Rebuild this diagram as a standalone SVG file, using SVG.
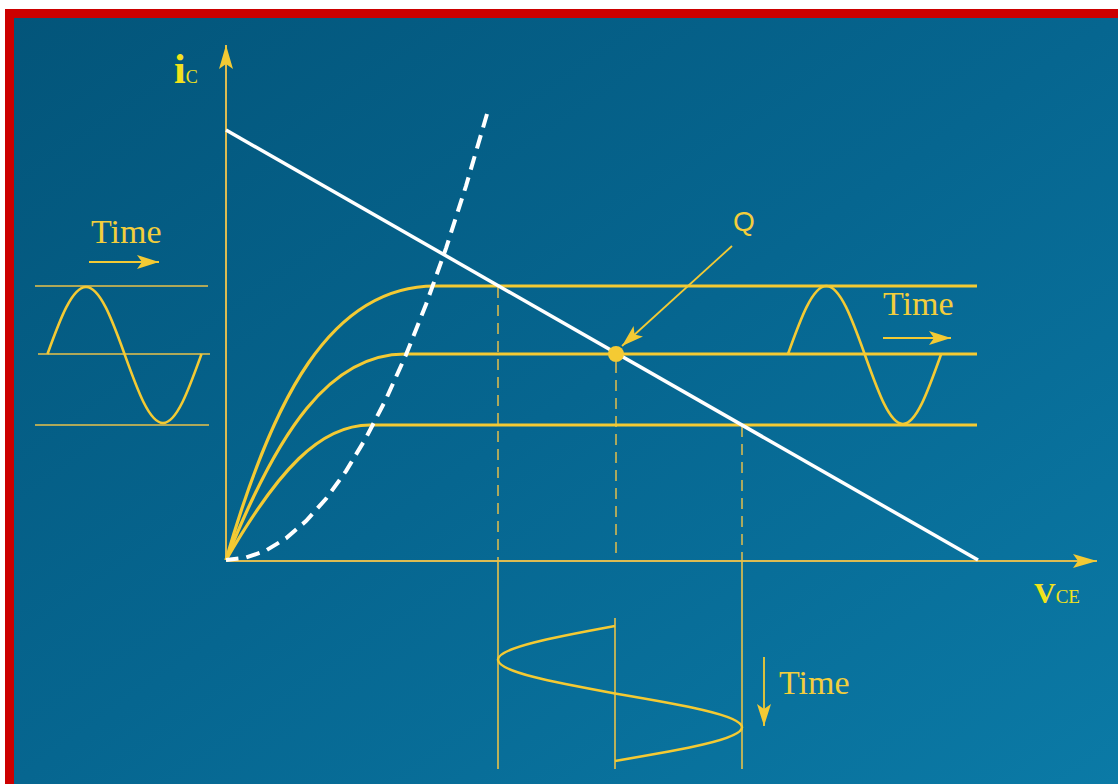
<svg xmlns="http://www.w3.org/2000/svg" width="1118" height="784" viewBox="0 0 1118 784">
<defs>
<linearGradient id="bg" x1="0" y1="0" x2="1" y2="1">
<stop offset="0" stop-color="#03557a"/>
<stop offset="0.5" stop-color="#066690"/>
<stop offset="1" stop-color="#0b7aa6"/>
</linearGradient>
<marker id="ah" markerUnits="userSpaceOnUse" markerWidth="26" markerHeight="18" refX="22" refY="8" orient="auto">
<path d="M0,1 L22,8 L0,15 L5,8 Z" fill="#f3ca34"/>
</marker>
<marker id="axh" markerUnits="userSpaceOnUse" markerWidth="28" markerHeight="18" refX="24" refY="8" orient="auto">
<path d="M0,1 L24,8 L0,15 L5,8 Z" fill="#f3ca34"/>
</marker>
<style>
.thin{stroke:#e8c24a;stroke-width:1.6;fill:none}
.axis{stroke:#dcbc52;stroke-width:2;fill:none}
.curve{stroke:#f4ca33;stroke-width:3.2;fill:none}
.wave{stroke:#f4ca33;stroke-width:2.6;fill:none}
.dash{stroke:#e2bf4c;stroke-width:1.5;fill:none;stroke-dasharray:11 7}
.arr{stroke:#f3ca34;stroke-width:1.8;fill:none}
.lbl{font-family:"Liberation Serif",serif;fill:#f3ce3c}
.ax{font-family:"Liberation Serif",serif;fill:#f2e21c;font-weight:bold}
</style>
</defs>
<rect x="0" y="0" width="1118" height="784" fill="#ffffff"/>
<rect x="5" y="9" width="1113" height="775" fill="#cc0000"/>
<rect x="14" y="18" width="1104" height="766" fill="url(#bg)"/>

<g id="connectors">
<line class="axis" x1="226" y1="560" x2="226" y2="45" marker-end="url(#axh)"/>
<line class="axis" x1="226" y1="561" x2="1097" y2="561" marker-end="url(#axh)"/>
<line class="dash" x1="498" y1="287" x2="498" y2="560"/>
<line class="thin" x1="498" y1="560" x2="498" y2="769"/>
<line class="dash" x1="616" y1="362" x2="616" y2="560"/>
<line class="thin" x1="615" y1="618" x2="615" y2="769"/>
<line class="dash" x1="742" y1="426" x2="742" y2="560"/>
<line class="thin" x1="742" y1="560" x2="742" y2="769"/>
<line class="arr" x1="732" y1="246" x2="622" y2="346" marker-end="url(#ah)"/>
</g>

<g id="input-signal">
<line class="thin" x1="35" y1="286" x2="208" y2="286"/>
<line class="thin" x1="38" y1="354" x2="210" y2="354"/>
<line class="thin" x1="35" y1="425" x2="209" y2="425"/>
<path class="wave" d="M47.5,354 C60.06,319.15 72.11,287 86,287 C99.89,287 111.94,319.15 124.5,354 C137.06,388.85 149.11,423 163,423 C176.89,423 188.94,388.85 201.5,354"/>
<text class="lbl" x="91" y="243" font-size="34">Time</text>
<line class="arr" x1="89" y1="262" x2="159" y2="262" marker-end="url(#ah)"/>
</g>

<g id="characteristics">
<path class="curve" d="M226,560 C272,400 330,286 435,286 L977,286"/>
<path class="curve" d="M226,560 C278,430 330,354 405,354 L977,354"/>
<path class="curve" d="M226,560 C278,470 320,425 370,425 L977,425"/>
</g>

<g id="saturation-boundary">
<polyline points="487,114 466,186 446,248.3 426,304.5 406,354.8 386,399.2 366,437.9 346,471.1 326,498.8 306,521.1 286,538.3 266,550.5 246,557.6 226,560" fill="none" stroke="#ffffff" stroke-width="4" stroke-dasharray="14 8"/>
</g>

<g id="load-line">
<line x1="226" y1="130" x2="978" y2="560" stroke="#ffffff" stroke-width="3.5"/>
</g>

<g id="q-point">
<circle cx="616" cy="354" r="8" fill="#f4ca33"/>
<text x="733" y="231" font-family="'Liberation Sans',Arial,sans-serif" font-size="28" fill="#f3ce3c">Q</text>
</g>

<g id="output-current">
<path class="wave" d="M788,354 C800.5,319.15 812.5,286 826.3,286 C840.1,286 852.1,319.15 864.6,354 C877.1,388.85 889.1,424 902.9,424 C916.7,424 928.7,388.85 941.2,354"/>
<text class="lbl" x="883" y="315" font-size="34">Time</text>
<line class="arr" x1="883" y1="338" x2="951" y2="338" marker-end="url(#ah)"/>
</g>

<g id="output-voltage">
<path class="wave" d="M615,626 C555,637 498,647.6 498,659.75 C498,671.9 555,682.5 615,693.5 C680.1,704.5 742,715.1 742,727.25 C742,739.4 680.1,750 615,761"/>
<text class="lbl" x="779" y="694" font-size="34">Time</text>
<line class="arr" x1="764" y1="657" x2="764" y2="726" marker-end="url(#ah)"/>
</g>

<g id="axis-labels">
<text class="ax" x="174" y="83" font-size="42">i<tspan font-size="18" font-weight="normal">C</tspan></text>
<text class="ax" x="1034" y="603" font-size="30">V<tspan font-size="19" font-weight="normal">CE</tspan></text>
</g>
</svg>
